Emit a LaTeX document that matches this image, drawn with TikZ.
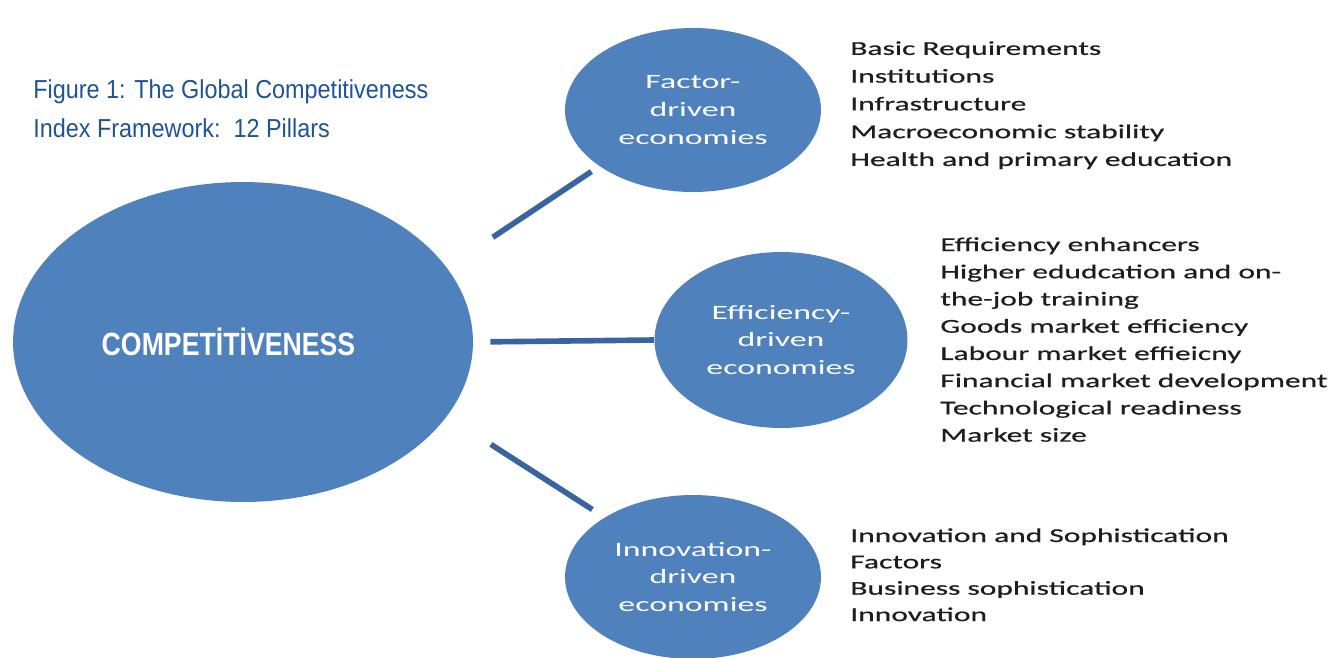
\documentclass[tikz,border=0pt]{standalone}
\usepackage{fontspec}
\setmainfont{Carlito}
\newfontfamily\titlefont[FakeStretch=0.9]{Liberation Sans}
\newfontfamily\headfont[FakeStretch=0.83]{Liberation Sans}
\newfontfamily\listfont[FakeStretch=1.6,FakeBold=0.6]{Carlito}
\newfontfamily\ballfont[FakeStretch=1.66]{Carlito}
\usetikzlibrary{shapes.geometric,positioning}

\definecolor{ballblue}{RGB}{79,129,189}
\definecolor{linkblue}{RGB}{58,100,158}
\definecolor{titleblue}{RGB}{30,84,150}
\definecolor{listgray}{RGB}{30,30,30}

\begin{document}
\begin{tikzpicture}[x=0.02cm,y=-0.02cm,
    ball/.style={ellipse,fill=ballblue,text=white,align=center,
      font=\ballfont\fontsize{11.6}{15.9}\selectfont},
    link/.style={draw=linkblue,line width=3.2pt},
    pillars/.style={anchor=north west,align=left,inner sep=0pt,text=listgray}]
    \useasboundingbox (0,0) rectangle (1332,657);

    % title
    \node[anchor=north west,align=left,inner sep=0pt,text=titleblue,
      font=\titlefont\fontsize{14.8}{22.2}\selectfont] (title) at (33,79)
      {Figure 1: The Global Competitiveness\\Index Framework:\ \ 12 Pillars};

    % the four ellipses
    \node[ball,minimum width=9.2cm,minimum height=6.4cm] (comp) at (243,342) {};
    \node[text=white,font=\headfont\bfseries\fontsize{18.3}{22}\selectfont]
      (comptext) at ([xshift=-0.29cm]comp.center) {COMPETİTİVENESS};
    \node[ball,minimum width=5.12cm,minimum height=3.28cm] (fac) at (693,110)
      {Factor-\\driven\\economies};
    \node[ball,minimum width=5.06cm,minimum height=3.52cm] (eff) at (781,340)
      {Efficiency-\\driven\\economies};
    \node[ball,minimum width=5.12cm,minimum height=3.28cm] (inno) at (693,577)
      {Innovation-\\driven\\economies};

    % connectors
    \draw[link,shorten <=1.1cm,shorten >=0.19cm] (comp.20.35) -- (fac.211.7);
    \draw[link,shorten <=0.34cm] (comp.east) -- (eff.west);
    \draw[link,shorten <=1.04cm,shorten >=0.29cm] (comp.-20.3) -- (inno.146.3);

    % pillar lists
    \node[pillars,font=\listfont\fontsize{11.2}{15.8}\selectfont] (faclist) at (850,41)
      {Basic Requirements\\Institutions\\Infrastructure\\Macroeconomic stability\\
       Health and primary education};
    \node[pillars,font=\listfont\fontsize{11.2}{15.5}\selectfont] (efflist) at (940,237)
      {Efficiency enhancers\\Higher edudcation and on-\\the-job training\\
       Goods market efficiency\\Labour market effieicny\\Financial market development\\
       Technological readiness\\Market size};
    \node[pillars,font=\listfont\fontsize{11.2}{15}\selectfont] (innolist) at (850,528)
      {Innovation and Sophistication\\Factors\\Business sophistication\\Innovation};
\end{tikzpicture}
\end{document}
